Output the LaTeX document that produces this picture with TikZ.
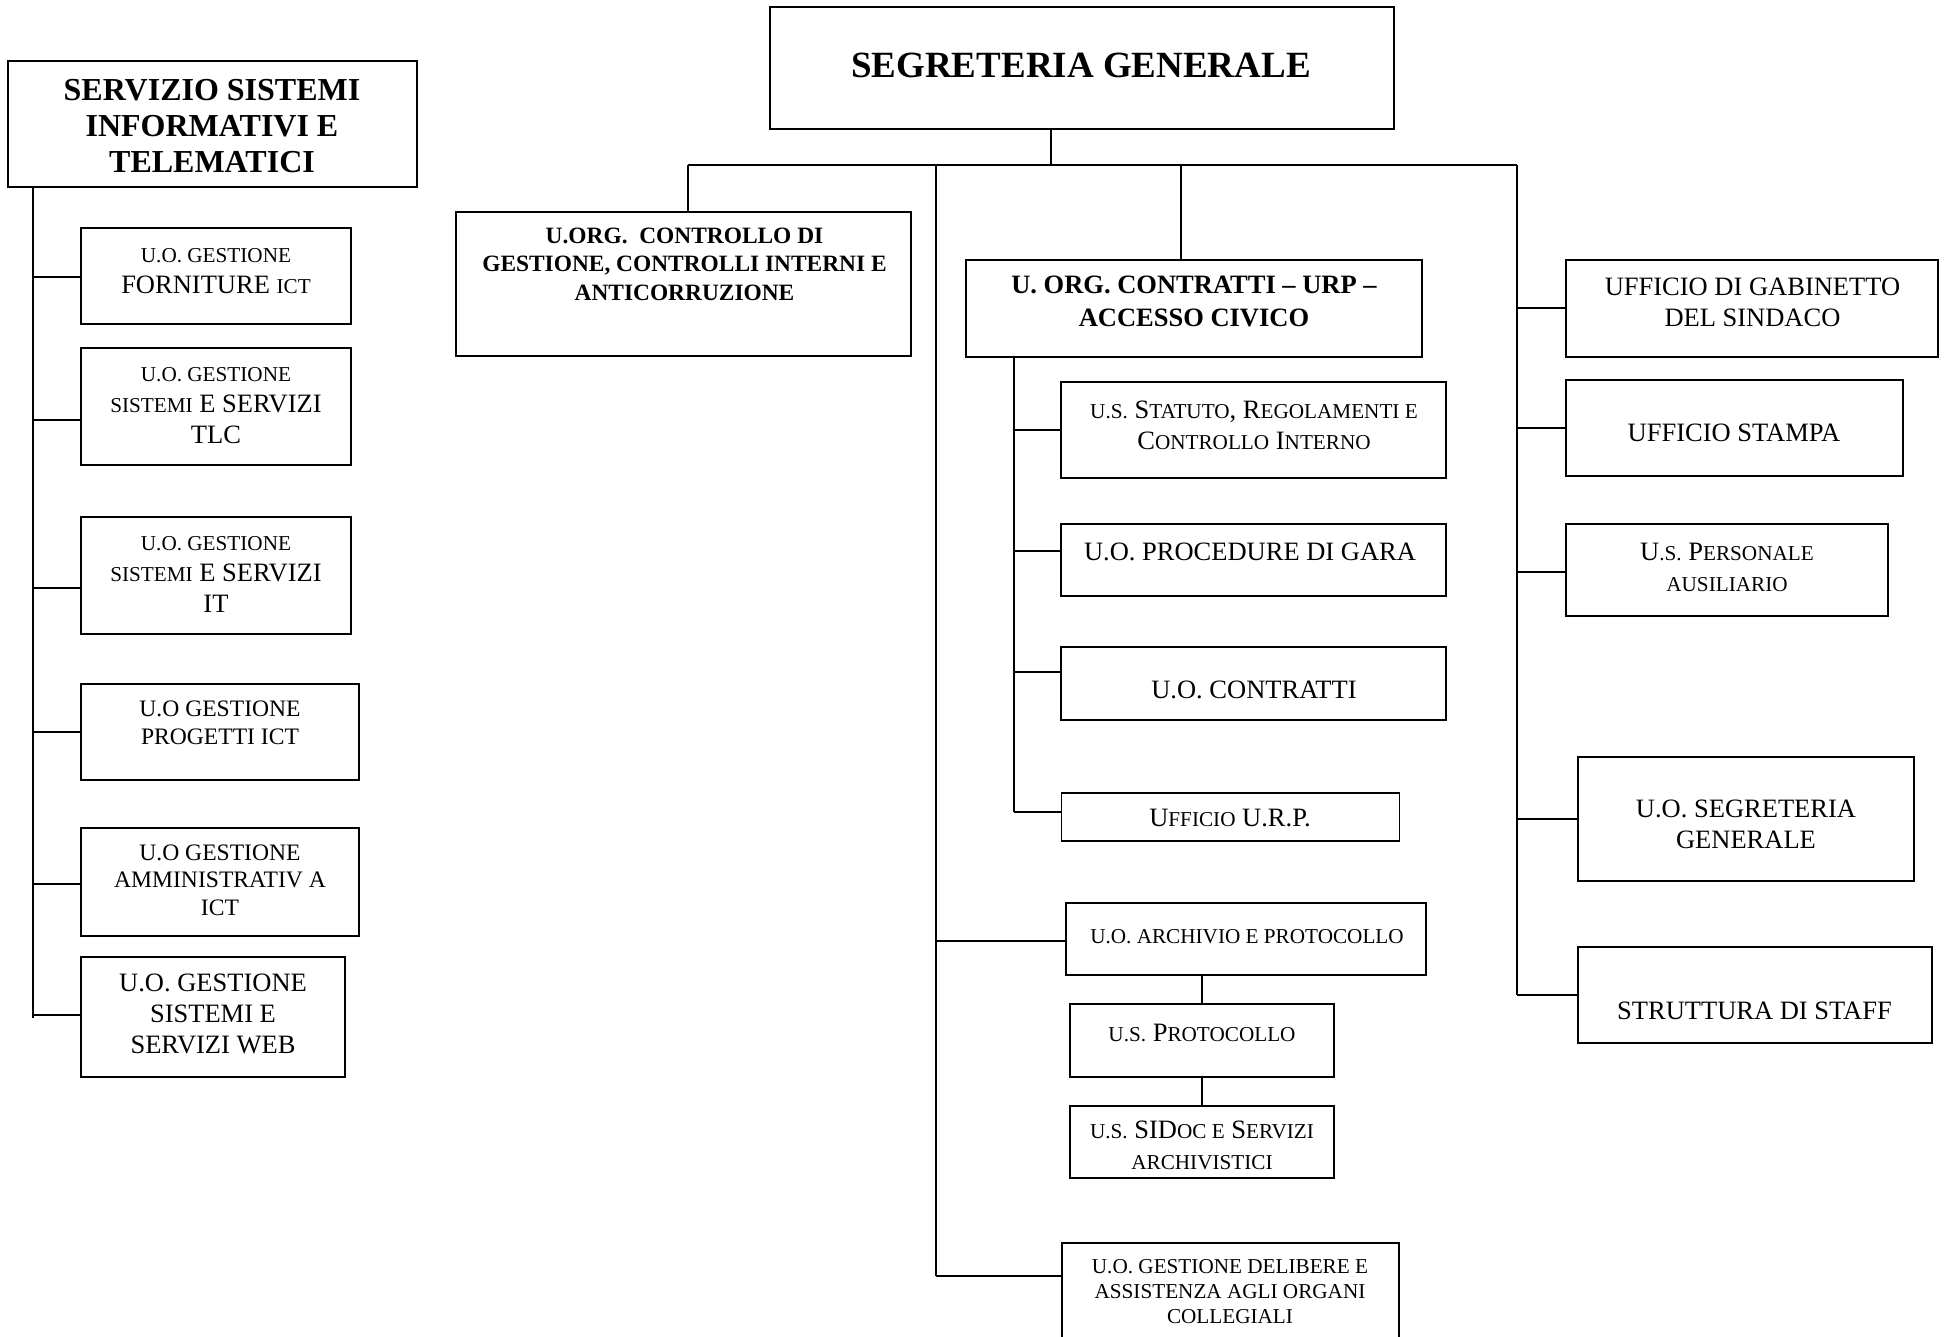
\documentclass[tikz,border=0pt]{standalone}
\usepackage{fontspec}
\setmainfont{Liberation Serif}
\newcommand{\sm}[1]{\scalebox{0.8}{#1}}
\tikzset{
  box/.style={draw, line width=1.8pt, inner sep=0pt},
  wire/.style={line width=1.6pt},
  lbl/.style={align=center, inner sep=0pt, font=\fontsize{26.5}{31}\selectfont},
  lblsmall/.style={lbl, font=\fontsize{21.2}{25}\selectfont},
  lblmid/.style={lbl, font=\fontsize{23.6}{27.5}\selectfont},
}
\begin{document}
\begin{tikzpicture}[x=1pt,y=-1pt]
  \fill[white] (0,0) rectangle (1944,1337);
  \useasboundingbox (0,0) rectangle (1944,1337);
  \clip (0,0) rectangle (1944,1337);

  \node[box, minimum width=624pt, minimum height=122pt] (segr) at (1082,68) {};
  \node[lbl, font=\fontsize{37}{44}\selectfont\bfseries] (segr-t) at (1081,65) {SEGRETERIA GENERALE};

  \node[box, minimum width=409pt, minimum height=126pt] (ssit) at (212.5,124) {};
  \node[lbl, font=\fontsize{32}{36}\selectfont\bfseries] (ssit-t) at (212,126) {SERVIZIO SISTEMI\\INFORMATIVI E\\TELEMATICI};

  \node[box, minimum width=270pt, minimum height=96pt] (b1) at (216,276) {};
  \node[lbl] (b1-t) at (216,271) {\sm{U.O. GESTIONE}\\FORNITURE \sm{ICT}};
  \node[box, minimum width=270pt, minimum height=117pt] (b2) at (216,406.5) {};
  \node[lbl] (b2-t) at (216,406) {\sm{U.O. GESTIONE}\\\sm{SISTEMI} E SERVIZI\\TLC};
  \node[box, minimum width=270pt, minimum height=117pt] (b3) at (216,575.5) {};
  \node[lbl] (b3-t) at (216,574) {\sm{U.O. GESTIONE}\\\sm{SISTEMI} E SERVIZI\\IT};
  \node[box, minimum width=278pt, minimum height=96pt] (b4) at (220,732) {};
  \node[lblmid] (b4-t) at (220,723) {U.O GESTIONE\\PROGETTI ICT};
  \node[box, minimum width=278pt, minimum height=108pt] (b5) at (220,882) {};
  \node[lblmid] (b5-t) at (220,880) {U.O GESTIONE\\AMMINISTRATIV A\\ICT};
  \node[box, minimum width=264pt, minimum height=120pt] (b6) at (213,1017) {};
  \node[lbl] (b6-t) at (213,1013.5) {U.O. GESTIONE\\SISTEMI E\\SERVIZI WEB};

  \node[box, minimum width=455pt, minimum height=144pt] (ctrl) at (683.5,284) {};
  \node[lbl, font=\fontsize{23.4}{28.5}\selectfont\bfseries] (ctrl-t) at (684.5,264) {U.ORG.\ \ CONTROLLO DI\\GESTIONE, CONTROLLI INTERNI E\\ANTICORRUZIONE};

  \node[box, minimum width=456pt, minimum height=97pt] (contr) at (1194,308.5) {};
  \node[lbl, font=\fontsize{26.5}{33}\selectfont\bfseries] (contr-t) at (1194,301.5) {U. ORG. CONTRATTI -- URP --\\ACCESSO CIVICO};

  \node[box, minimum width=385pt, minimum height=96pt] (statuto) at (1253.5,430) {};
  \node[lbl] (statuto-t) at (1254,425.5) {\sm{U.S.} S\sm{TATUTO}, R\sm{EGOLAMENTI E}\\C\sm{ONTROLLO} I\sm{NTERNO}};
  \node[box, minimum width=385pt, minimum height=72pt] (gara) at (1253.5,560) {};
  \node[lbl] (gara-t) at (1250,552) {U.O. PROCEDURE DI GARA};
  \node[box, minimum width=385pt, minimum height=73pt] (uocontr) at (1253.5,683.5) {};
  \node[lbl] (uocontr-t) at (1254,690) {U.O. CONTRATTI};
  \node[box, minimum width=338pt, minimum height=48pt] (urp) at (1230.5,817) {};
  \node[lbl] (urp-t) at (1230,818) {U\sm{FFICIO} U.R.P.};

  \node[box, minimum width=360pt, minimum height=72pt] (archiv) at (1246,939) {};
  \node[lblsmall] (archiv-t) at (1247,937) {U.O. ARCHIVIO E PROTOCOLLO};
  \node[box, minimum width=264pt, minimum height=73pt] (protoc) at (1202,1040.5) {};
  \node[lbl] (protoc-t) at (1202,1033) {\sm{U.S.} P\sm{ROTOCOLLO}};
  \node[box, minimum width=264pt, minimum height=72pt] (sidoc) at (1202,1142) {};
  \node[lbl] (sidoc-t) at (1202,1145.5) {\sm{U.S.} SID\sm{OC E} S\sm{ERVIZI}\\\sm{ARCHIVISTICI}};
  \node[box, minimum width=337pt, minimum height=107pt] (delib) at (1230.5,1296.5) {};
  \node[lblsmall] (delib-t) at (1230,1292) {U.O. GESTIONE DELIBERE E\\ASSISTENZA AGLI ORGANI\\COLLEGIALI};

  \node[box, minimum width=372pt, minimum height=97pt] (gabin) at (1752,308.5) {};
  \node[lbl] (gabin-t) at (1752.5,302.5) {UFFICIO DI GABINETTO\\DEL SINDACO};
  \node[box, minimum width=337pt, minimum height=96pt] (stampa) at (1734.5,428) {};
  \node[lbl] (stampa-t) at (1734,433) {UFFICIO STAMPA};
  \node[box, minimum width=322pt, minimum height=92pt] (perso) at (1727,570) {};
  \node[lbl] (perso-t) at (1727,567.5) {U\sm{.S.} P\sm{ERSONALE}\\\sm{AUSILIARIO}};
  \node[box, minimum width=336pt, minimum height=124pt] (uoseg) at (1746,819) {};
  \node[lbl] (uoseg-t) at (1746,824) {U.O. SEGRETERIA\\GENERALE};
  \node[box, minimum width=354pt, minimum height=96pt] (staff) at (1755,995) {};
  \node[lbl] (staff-t) at (1754.5,1011) {STRUTTURA DI STAFF};

  \coordinate (bus) at (0,165);
  \coordinate (lx) at (33,0);
  \coordinate (mid) at (936,0);
  \coordinate (sx) at (1014,0);
  \coordinate (rt) at (1517,0);
  \coordinate (stem) at ([xshift=-31pt]segr.south);
  \coordinate (cdrop) at ([xshift=4.5pt]ctrl.north);
  \coordinate (kdrop) at ([xshift=-13pt]contr.north);

  \draw[wire] (stem) -- (stem |- bus);
  \draw[wire] (cdrop |- bus) -- (rt |- bus);
  \draw[wire] (cdrop |- bus) -- (cdrop);
  \draw[wire] (kdrop |- bus) -- (kdrop);

  \draw[wire] (lx |- ssit.south) -- (lx |- 0,1018);
  \foreach \n/\yy in {b1/277,b2/420,b3/588,b4/732,b5/884,b6/1015}
    \draw[wire] (lx |- 0,\yy) -- (\n.west |- 0,\yy);

  \draw[wire] (mid |- bus) -- (mid |- 0,1276);
  \foreach \n/\yy in {archiv/941,delib/1276}
    \draw[wire] (mid |- 0,\yy) -- (\n.west |- 0,\yy);

  \draw[wire] (sx |- contr.south) -- (sx |- 0,812);
  \foreach \n/\yy in {statuto/430,gara/551,uocontr/672,urp/812}
    \draw[wire] (sx |- 0,\yy) -- (\n.west |- 0,\yy);

  \draw[wire] (rt |- bus) -- (rt |- 0,995);
  \foreach \n/\yy in {gabin/308,stampa/428,perso/572,uoseg/819,staff/995}
    \draw[wire] (rt |- 0,\yy) -- (\n.west |- 0,\yy);

  \draw[wire] (archiv.south -| protoc.north) -- (protoc.north);
  \draw[wire] (protoc.south) -- (sidoc.north);
\end{tikzpicture}
\end{document}
